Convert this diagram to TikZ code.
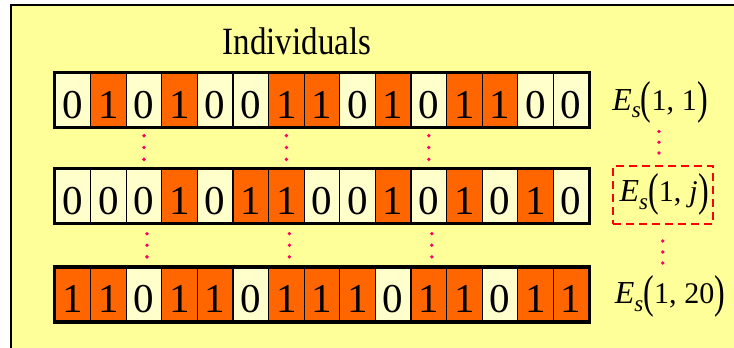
\documentclass[tikz,border=0pt]{standalone}
\usepackage{fontspec}
\setmainfont{Liberation Serif}
\newfontfamily\timesfam{Liberation Serif}
\definecolor{panel}{HTML}{FFFF99}
\definecolor{zerocell}{HTML}{FFFFCC}
\definecolor{onecell}{HTML}{FF6600}
\definecolor{dotpink}{HTML}{FF0066}
\definecolor{framered}{HTML}{FF0000}
% heading is set slightly taller than wide
\newcommand{\tall}[1]{\scalebox{1}[1.17]{#1}}
\newcommand{\bigpar}[1]{\raisebox{-3.8pt}{\scalebox{1}[1.44]{\fontsize{32}{32}\selectfont #1}}}
\newcommand{\eslabel}[1]{{\fontsize{32}{32}\selectfont\itshape E}\raisebox{-7.7pt}{\fontsize{23}{23}\selectfont\itshape s}\bigpar{(}#1\bigpar{)}}
\newcommand{\argsep}{,\hspace{8pt}}
\tikzset{
  bitcell/.style={draw=black, line width=1.3pt, minimum width=35.6pt, minimum height=54pt,
    inner sep=0pt, font=\timesfam\fontsize{41}{41}\selectfont, text height=36pt, text depth=0pt},
  rowframe/.style={draw=black, line width=3.5pt},
  dotmark/.style={circle, fill=dotpink, inner sep=0pt, minimum size=3.8pt},
  eslab/.style={inner sep=0pt, font=\timesfam\fontsize{30}{30}\selectfont, anchor=base},
}
\begin{document}
\begin{tikzpicture}[x=1pt,y=-1pt]
  \useasboundingbox (0,0) rectangle (734,348);
  \fill[white] (0,0) rectangle (734,348);
  % yellow panel running off the right and bottom edges
  \draw[line width=2.2pt, fill=panel] (11,5) rectangle (760,370);

  \node[font=\timesfam\fontsize{33}{33}\selectfont, anchor=base, inner sep=0pt] (title) at (297,54) {\tall{Individuals}};

  % three chromosomes, 15 bits each
  \foreach \r/\yc/\bits in {1/100/{0,1,0,1,0,0,1,1,0,1,0,1,1,0,0},
                            2/196/{0,0,0,1,0,1,1,0,0,1,0,1,0,1,0},
                            3/294.5/{1,1,0,1,1,0,1,1,1,0,1,1,0,1,1}} {
    \foreach \b [count=\c] in \bits {
      \ifnum\b=1 \def\cellfill{onecell}\else \def\cellfill{zerocell}\fi
      \node[bitcell, fill=\cellfill] (r\r c\c) at ({55+35.6*(\c-0.5)},\yc) {\b};
    }
    \draw[rowframe] (r\r c1.north west) rectangle (r\r c15.south east);
  }

  % vertical ellipses between the rows
  \foreach \c in {3,7,11} {
    \path ([yshift=-8pt]r1c\c.south) -- ([yshift=9pt]r2c\c.north)
      node[dotmark, pos=0] {} node[dotmark, pos=0.5] {} node[dotmark, pos=1] {};
    \path ([xshift=3pt,yshift=-10pt]r2c\c.south) -- ([xshift=3pt,yshift=10pt]r3c\c.north)
      node[dotmark, pos=0] {} node[dotmark, pos=0.5] {} node[dotmark, pos=1] {};
  }

  % fitness labels
  \node[eslab] (e1) at (660,110) {\eslabel{1\argsep 1}};
  \node[eslab] (ej) at (664.5,201.7) {\eslabel{1\argsep\textit{j}\kern1pt}};
  \node[eslab] (e20) at (670,303.3) {\eslabel{1\argsep 20}};
  \node[draw=framered, line width=2.5pt, dash pattern=on 8pt off 5pt,
        minimum width=100pt, minimum height=58pt] (jbox) at (663,195) {};

  \coordinate (d1a) at (659,131.5);
  \coordinate (d1b) at (659,153);
  \coordinate (d2a) at (662.7,241);
  \coordinate (d2b) at (662.7,263);
  \path (d1a) -- (d1b) node[dotmark, pos=0] {} node[dotmark, pos=0.5] {} node[dotmark, pos=1] {};
  \path (d2a) -- (d2b) node[dotmark, pos=0] {} node[dotmark, pos=0.5] {} node[dotmark, pos=1] {};
\end{tikzpicture}
\end{document}
